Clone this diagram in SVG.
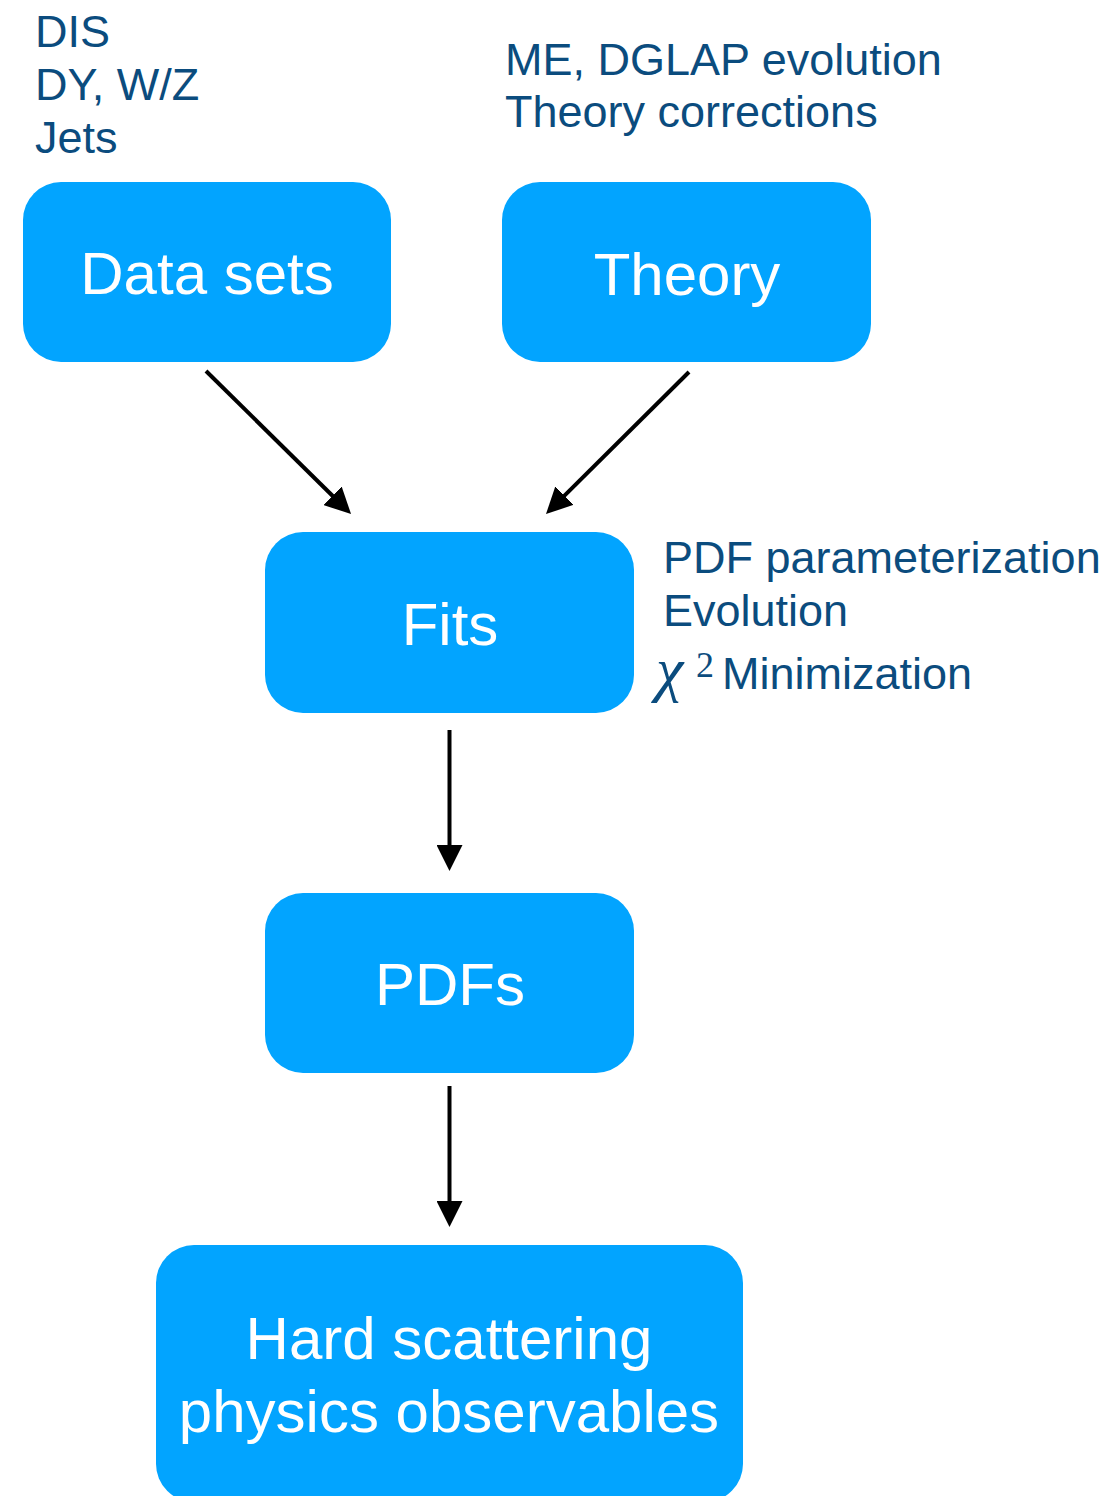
<svg xmlns="http://www.w3.org/2000/svg" width="1108" height="1496" viewBox="0 0 1108 1496">
<style>
.box{fill:#02a4ff}
.lbl{font-family:"Liberation Sans",Arial,sans-serif;font-size:60px;fill:#ffffff;text-anchor:middle}
.note{font-family:"Liberation Sans",Arial,sans-serif;font-size:45px;fill:#0b4c7e}
.chi{font-family:"Liberation Serif","Times New Roman",serif;fill:#0b4c7e;font-style:italic;font-size:62px}
.sup{font-family:"Liberation Serif","Times New Roman",serif;fill:#0b4c7e;font-style:normal;font-size:36px}
.conn{stroke:#000;stroke-width:4;fill:none;marker-end:url(#ah)}
</style>
<defs>
<marker id="ah" markerUnits="userSpaceOnUse" markerWidth="27" markerHeight="26" refX="6" refY="13" orient="auto" viewBox="0 0 27 26">
<path d="M0,0 L26,13 L0,26 Z" fill="#000"/>
</marker>
</defs>
<rect width="1108" height="1496" fill="#fff"/>
<g id="notes">
<text class="note" x="35" y="47">DIS</text>
<text class="note" x="35" y="100">DY, W/Z</text>
<text class="note" x="35" y="153">Jets</text>
<text class="note" x="505" y="75">ME, DGLAP evolution</text>
<text class="note" x="505" y="127">Theory corrections</text>
<text class="note" x="663" y="573">PDF parameterization</text>
<text class="note" x="663" y="626">Evolution</text>
<text class="chi" x="656" y="690">χ</text>
<text class="sup" x="696" y="677">2</text>
<text class="note" x="722" y="689">Minimization</text>
</g>
<g id="node-datasets">
<rect class="box" x="23" y="182" width="368" height="180" rx="38"/>
<text class="lbl" x="207" y="294">Data sets</text>
</g>
<g id="node-theory">
<rect class="box" x="502" y="182" width="369" height="180" rx="38"/>
<text class="lbl" x="687" y="295">Theory</text>
</g>
<g id="node-fits">
<rect class="box" x="265" y="532" width="369" height="181" rx="38"/>
<text class="lbl" x="450" y="645">Fits</text>
</g>
<g id="node-pdfs">
<rect class="box" x="265" y="893" width="369" height="180" rx="38"/>
<text class="lbl" x="450" y="1005">PDFs</text>
</g>
<g id="node-observables">
<rect class="box" x="156" y="1245" width="587" height="257" rx="38"/>
<text class="lbl" x="449" y="1359">Hard scattering</text>
<text class="lbl" x="449" y="1432">physics observables</text>
</g>
<g id="connectors">
<path class="conn" d="M206,371 L336.8,500"/>
<path class="conn" d="M689,372 L560.2,499.9"/>
<path class="conn" d="M449.5,730 L449.5,851"/>
<path class="conn" d="M449.5,1086 L449.5,1207"/>
</g>
</svg>
